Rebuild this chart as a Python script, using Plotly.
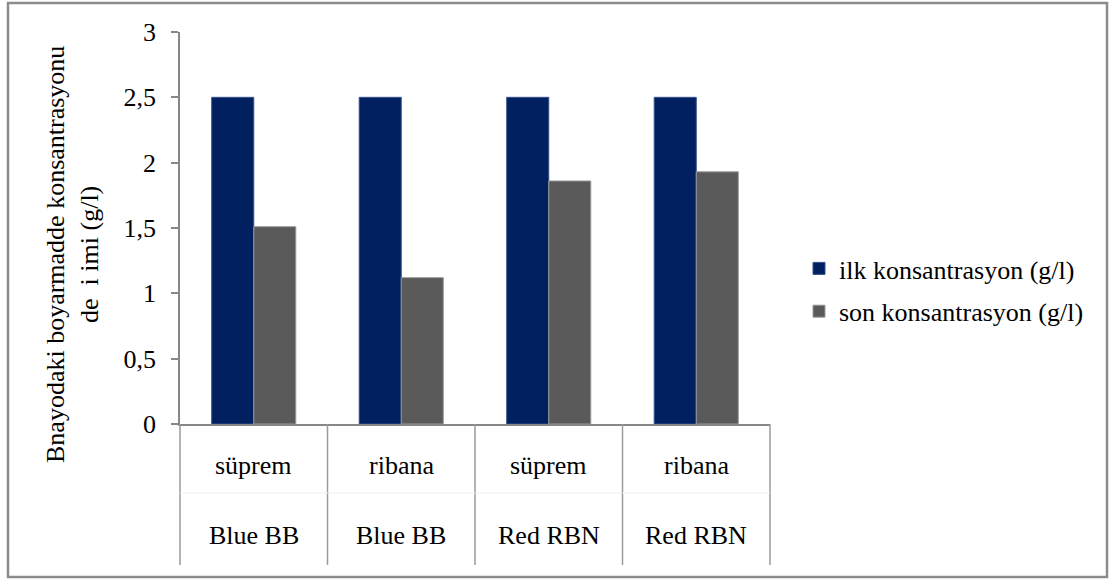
import plotly.graph_objects as go

# Data
fabrics = ["süprem", "ribana", "süprem", "ribana"]
dyes = ["Blue BB", "Blue BB", "Red RBN", "Red RBN"]
initial_conc = [2.5, 2.5, 2.5, 2.5]
final_conc = [1.51, 1.12, 1.86, 1.93]
series_names = ["ilk konsantrasyon (g/l)", "son konsantrasyon (g/l)"]
y_ticks = [0, 0.5, 1, 1.5, 2, 2.5, 3]

# Canvas / plot area geometry (pixels)
W, H = 1113, 580
L, R, T, B = 180, 343, 32, 156
PW, PH = W - L - R, H - T - B

FONT = "Liberation Serif"
FS = 26
AXIS_GREY = "#878787"


def px_x(p):
    return (p - L) / PW


def px_y(p):
    return (H - B - p) / PH


cats = list(range(len(fabrics)))

fig = go.Figure()
fig.add_trace(go.Bar(
    x=cats, y=initial_conc, name=series_names[0], legendgroup="a",
    marker=dict(color="#002060", line=dict(color="#34508a", width=1)),
))
fig.add_trace(go.Bar(
    x=cats, y=final_conc, name=series_names[1], legendgroup="b",
    marker=dict(color="#5a5a5a", line=dict(color="#9a9a9a", width=1)),
))

shapes = []
# category table: vertical dividers below the axis
n = len(cats)
for i in range(n + 1):
    shapes.append(dict(type="line", xref="paper", yref="paper",
                       x0=i / n, x1=i / n, y0=0, y1=px_y(565),
                       line=dict(color="#9a9a9a", width=1.5)))
# faint separator between the two label rows
shapes.append(dict(type="line", xref="paper", yref="paper",
                   x0=0, x1=1, y0=px_y(493), y1=px_y(493),
                   line=dict(color="#efefef", width=1)))
# outer chart border
shapes.append(dict(type="rect", xref="paper", yref="paper",
                   x0=px_x(8), x1=px_x(1107), y0=px_y(577), y1=px_y(3),
                   line=dict(color="#8c8c8c", width=2.5)))

annotations = []
for i, (f, d) in enumerate(zip(fabrics, dyes)):
    annotations.append(dict(x=i, y=px_y(465), xref="x", yref="paper",
                            text=f, showarrow=False, yanchor="middle",
                            font=dict(family=FONT, size=FS, color="black")))
    annotations.append(dict(x=i, y=px_y(535), xref="x", yref="paper",
                            text=d, showarrow=False, yanchor="middle",
                            font=dict(family=FONT, size=FS, color="black")))
# y-axis title
annotations.append(dict(
    x=px_x(72), y=px_y(255), xref="paper", yref="paper",
    text="Bnayodaki boyarmadde konsantrasyonu<br>de\u00a0\u00a0i\u00a0imi (g/l)",
    textangle=-90, showarrow=False, xanchor="center", yanchor="middle",
    font=dict(family=FONT, size=FS, color="black"),
))

fig.update_layout(
    width=W, height=H,
    margin=dict(l=L, r=R, t=T, b=B),
    paper_bgcolor="white", plot_bgcolor="white",
    separators=",.",
    barmode="group", bargap=0.43, bargroupgap=0,
    font=dict(family=FONT, size=FS, color="black"),
    showlegend=True,
    legend=dict(x=px_x(799), y=px_y(245), xanchor="left", yanchor="top",
                tracegroupgap=6, font=dict(family=FONT, size=FS, color="black"),
                bgcolor="rgba(0,0,0,0)"),
    xaxis=dict(range=[-0.5, n - 0.5], showticklabels=False, ticks="",
               showgrid=False, zeroline=False, showline=True,
               linecolor=AXIS_GREY, linewidth=1.5, fixedrange=True),
    yaxis=dict(range=[0, 3], tickvals=y_ticks, showgrid=False, zeroline=False,
               showline=True, linecolor=AXIS_GREY, linewidth=1.5,
               ticks="outside", ticklen=7, tickwidth=1.5, tickcolor=AXIS_GREY,
               ticklabelstandoff=10, fixedrange=True,
               tickfont=dict(family=FONT, size=FS, color="black")),
    shapes=shapes,
    annotations=annotations,
)

fig.write_html("out.html")
